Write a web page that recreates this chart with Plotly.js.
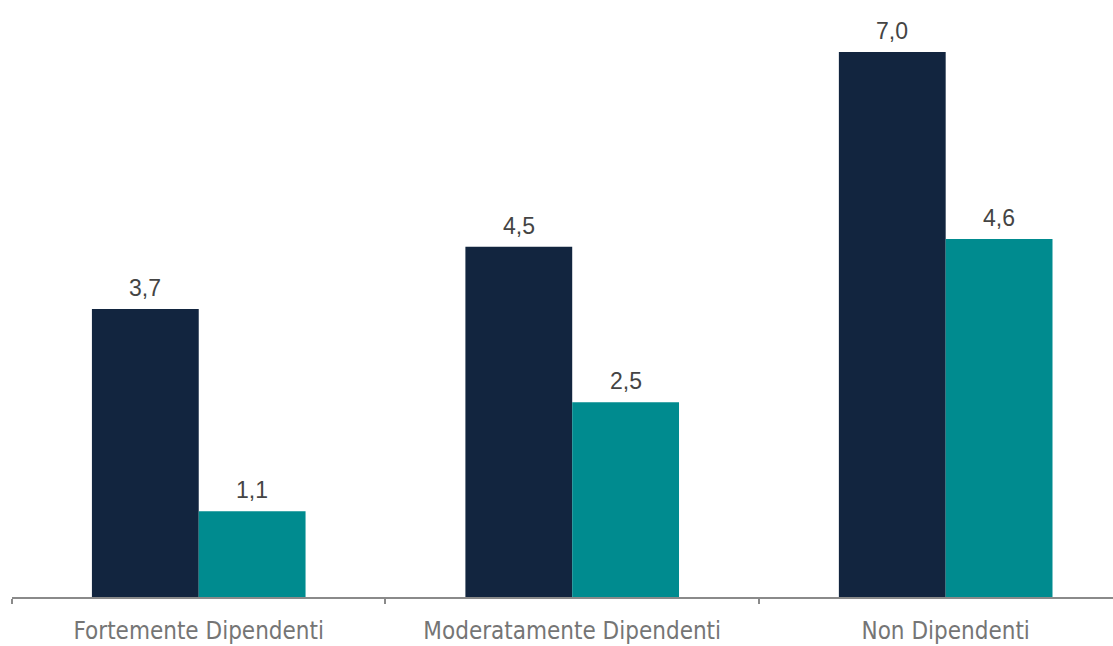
<!DOCTYPE html>
<html><head><meta charset="utf-8">
<script src="https://cdn.plot.ly/plotly-3.0.1.min.js"></script>
<style>html,body{margin:0;padding:0;background:#fff;}#chart{width:1113px;height:646px;}</style>
</head><body><div id="chart"></div>
<script>
const categories = ["Fortemente Dipendenti", "Moderatamente Dipendenti", "Non Dipendenti"];
const series1 = [3.7, 4.5, 7.0];
const series2 = [1.1, 2.5, 4.6];

const barGap = 0.428;
const half = (1 - barGap) / 4;
const textFont = {family: "Liberation Sans, Arial, sans-serif", size: 23, color: "#444444"};
const fmt = v => v.toFixed(1).replace(".", ",");

const traces = [
  {type: "bar", x: categories, y: series1, marker: {color: "#12253f"}, hoverinfo: "skip"},
  {type: "bar", x: categories, y: series2, marker: {color: "#008b8f"}, hoverinfo: "skip"}
];
const annotations = [];
categories.forEach((c, i) => {
  [[series1[i], -half], [series2[i], half]].forEach(([v, off]) => {
    annotations.push({x: i + off, y: v, xref: "x", yref: "y", text: fmt(v), showarrow: false,
      yanchor: "bottom", yshift: 6, font: textFont});
  });
});
const layout = {
  width: 1113, height: 646,
  margin: {l: 12, r: 0, t: 10, b: 49},
  showlegend: false,
  barmode: "group", bargap: barGap, bargroupgap: 0,
  plot_bgcolor: "#fff", paper_bgcolor: "#fff",
  annotations: annotations,
  xaxis: {
    range: [-0.5, 2.448], showline: true, linecolor: "#8a8a8a", linewidth: 2,
    ticks: "outside", tickson: "boundaries", ticklen: 5, tickcolor: "#8a8a8a", tickwidth: 2,
    ticklabelstandoff: 11,
    tickfont: {family: "Liberation Sans Narrow, DejaVu Sans Condensed, sans-serif", size: 24, color: "#757575"},
    showgrid: false, zeroline: false, fixedrange: true
  },
  yaxis: {range: [0, 7.54], visible: false, showgrid: false, zeroline: false, fixedrange: true}
};
Plotly.newPlot("chart", traces, layout, {displayModeBar: false, staticPlot: true});
</script></body></html>
